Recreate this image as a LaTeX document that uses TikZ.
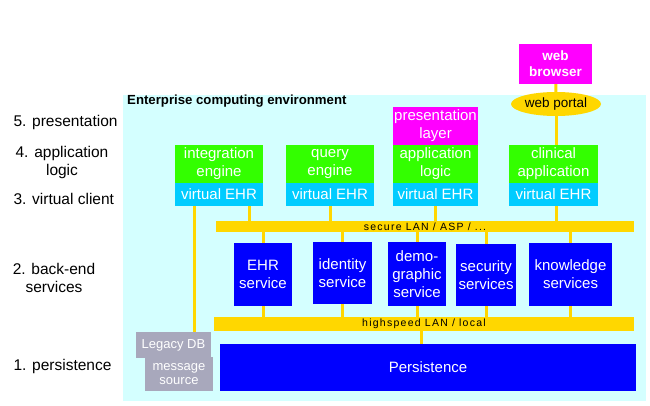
\documentclass[tikz,border=0pt]{standalone}
\usepackage{fontspec}
\setmainfont{Liberation Sans}
\newfontfamily\barfont[LetterSpace=12]{Liberation Sans}
\usetikzlibrary{shapes.geometric}

\definecolor{envbg}{HTML}{D4FFFF}
\definecolor{appgreen}{HTML}{33FF00}
\definecolor{vehr}{HTML}{00CCFF}
\definecolor{magbox}{HTML}{FF00FF}
\definecolor{svcblue}{HTML}{0000FF}
\definecolor{lanyel}{HTML}{FFD700}
\definecolor{legacy}{HTML}{A8A8BC}

\begin{document}
\begin{tikzpicture}[x=1pt, y=-1pt,
	box/.style={inner sep=0pt, align=center, text=white, font=\fontsize{15}{18}\selectfont},
	app/.style={box, fill=appgreen, minimum height=38pt},
	virt/.style={box, fill=vehr, minimum height=23pt},
	svc/.style={box, fill=svcblue},
	old/.style={box, fill=legacy, font=\fontsize{13}{14}\selectfont},
	lan/.style={inner sep=0pt, fill=lanyel, font=\barfont\fontsize{10.5}{11}\selectfont},
	wire/.style={draw=lanyel, line width=3pt},
	layer/.style={align=center, font=\fontsize{15.5}{18}\selectfont}]
	\useasboundingbox (0,0) rectangle (650,406);
	\fill[envbg] (123,95) rectangle (646,401);
	\node[anchor=north west, inner sep=0pt, font=\bfseries\fontsize{13.2}{14}\selectfont] (env) at (127,95) {Enterprise computing environment};
	
	% layer names
	\node[layer, anchor=west] (l5) at (10,122) {5. presentation};
	\node[layer] (l4) at (62,162) {4. application\\logic};
	\node[layer, anchor=west] (l3) at (10,199) {3. virtual client};
	\node[layer] (l2) at (54,278) {2. back-end\\services};
	\node[layer, anchor=west] (l1) at (10,366) {1. persistence};
	
	% presentation
	\node[box, fill=magbox, minimum width=73pt, minimum height=40pt, font=\bfseries\fontsize{13.5}{16}\selectfont] (web) at (555.5,64) {web\\browser};
	\node[ellipse, fill=lanyel, inner sep=0pt, minimum width=90pt, minimum height=24pt, font=\fontsize{13.5}{15}\selectfont] (portal) at (556,104) {web portal};
	\node[box, fill=magbox, minimum width=85pt, minimum height=38pt] (pres) at (435.5,126) {presentation\\layer};
	
	% applications with their virtual EHR
	\foreach \n/\x/\w/\t in {intg/219/88/{integration\\engine}, query/330/88/{query\\engine}, logic/435.5/85/{application\\logic}, clin/553.5/89/{clinical\\application}} {
		\node[app, minimum width=\w pt] (\n) at (\x,164) {\t};
		\node[virt, minimum width=\w pt] (\n v) at (\x,194.5) {virtual EHR};
	}
	
	% networks
	\node[lan, minimum width=418pt, minimum height=11pt] (slan) at (425,226.5) {secure LAN / ASP / ...};
	\node[lan, minimum width=420pt, minimum height=14pt] (hlan) at (424,324) {highspeed LAN / local};
	
	% back-end services
	\node[svc, minimum width=58pt, minimum height=63pt] (ehr) at (263,274.5) {EHR\\service};
	\node[svc, minimum width=59pt, minimum height=62pt] (ident) at (342.5,273) {identity\\service};
	\node[svc, minimum width=58pt, minimum height=64pt] (demo) at (417,274) {demo-\\graphic\\service};
	\node[svc, minimum width=60pt, minimum height=62pt] (secu) at (486,275) {security\\services};
	\node[svc, minimum width=83pt, minimum height=63pt] (know) at (570.5,274.5) {knowledge\\services};
	
	% persistence
	\node[svc, minimum width=416pt, minimum height=47pt] (pers) at (428,367.5) {Persistence};
	\node[old, minimum width=75pt, minimum height=26pt] (ldb) at (173.5,345) {Legacy DB};
	\node[old, minimum width=68pt, minimum height=34pt] (msg) at (179,374) {message\\source};
	
	% connections
	\draw[wire] (web) -- (portal);
	\draw[wire] (portal.south) -- (portal.south |- clin.north);
	\draw[wire] ([xshift=30pt]intgv.south) -- ([xshift=30pt]intgv.south |- slan.north);
	\draw[wire] ([xshift=-25pt]intgv.south) -- ([xshift=-25pt]intgv.south |- ldb.north);
	\foreach \n in {query, logic} {
		\draw[wire] (\n v) -- (\n v |- slan.north);
	}
	\draw[wire] (portal.south |- clinv.south) -- (portal.south |- slan.north);
	\foreach \s in {ehr, ident, demo, secu, know} {
		\draw[wire] (\s |- slan.south) -- (\s);
		\draw[wire] (\s) -- (\s |- hlan.north);
	}
	\draw[wire] ([xshift=-3pt]hlan.south) -- ([xshift=-3pt]hlan.south |- pers.north);
	
\end{tikzpicture}
\end{document}
